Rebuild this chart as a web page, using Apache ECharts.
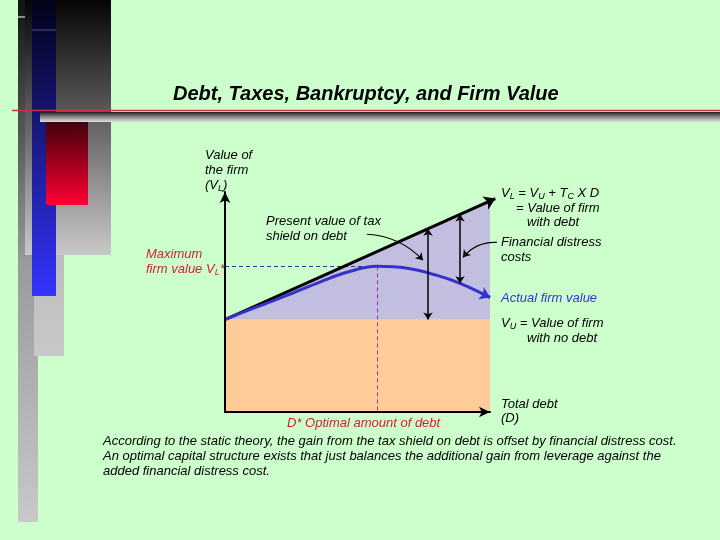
<!DOCTYPE html>
<html><head><meta charset="utf-8">
<script src="https://cdn.jsdelivr.net/npm/echarts@6/dist/echarts.min.js"></script>
<style>html,body{margin:0;padding:0;background:#ccffcc}#c{width:720px;height:540px}</style>
</head><body><div id="c"></div>
<script>
// ---- data (units: debt 0..100, firm value 0..100) ----
const debt = [0, 10.6, 23.4, 35.8, 46, 57.4, 68.7, 80, 88.7, 100];
const actualFirmValue = [42.1, 47.1, 53, 59, 63.5, 66.2, 65.3, 62.1, 58.5, 52.1];
const unleveredValue = 42;                 // V_U
const leveredStart = [0, 42];              // V_L = V_U + Tc x D
const leveredEnd = [102, 97];
const areaEnd = 100;
const optimalDebt = 57.4;                  // D*
const maxFirmValue = 66.2;                 // V_L*
const taxShieldArrow = [[76.6, 83.3], [76.6, 42]];
const distressArrow = [[88.7, 89.8], [88.7, 58.5]];
const taxShieldPointer = [[53.6, 80.8], [74.7, 69]];
const distressPointer = [[102.6, 77.1], [89.8, 70.3]];

const vlAt = d => leveredStart[1] + (leveredEnd[1] - leveredStart[1]) * (d - leveredStart[0]) / (leveredEnd[0] - leveredStart[0]);
const actualData = debt.map((d, i) => [d, actualFirmValue[i]]);
const n = debt.length;
const tipFrom = [debt[n - 2] + (debt[n - 1] - debt[n - 2]) * 0.7, actualFirmValue[n - 2] + (actualFirmValue[n - 1] - actualFirmValue[n - 2]) * 0.7];

const FONT = '"Liberation Sans", Arial, sans-serif';
const RED = '#cc1f3c', BLUE = '#3333cc';
const subRich = { sub: { font: 'italic 9px ' + FONT, padding: [6, 0, 0, 0] } };
function txt(x, y, text, fill, extra) {
  return Object.assign({ type: 'text', x: x, y: y, z: 50,
    style: { text: text, fill: fill || '#000', font: 'italic 13px ' + FONT, verticalAlign: 'middle', rich: subRich } }, extra || {});
}
const LG = echarts.graphic.LinearGradient;
function rect(x, y, w, h, stops, z) {
  return { type: 'rect', z: z, shape: { x: x, y: y, width: w, height: h }, style: { fill: new LG(0, 0, 0, 1, stops) } };
}
const axisCommon = { type: 'value', min: 0, max: 100, z: 10, splitLine: { show: false }, axisTick: { show: false }, axisLabel: { show: false },
  axisLine: { show: true, symbol: ['none', 'arrow'], symbolSize: [8, 11], lineStyle: { color: '#000', width: 2 } } };

const chart = echarts.init(document.getElementById('c'), null, { renderer: 'canvas' });
chart.setOption({
  backgroundColor: '#ccffcc',
  animation: false,
  grid: { left: 225, top: 192, width: 265, height: 220 },
  xAxis: Object.assign({}, axisCommon),
  yAxis: Object.assign({}, axisCommon),
  series: [
    { type: 'line', z: 1, symbol: 'none', data: [[0, unleveredValue], [areaEnd, unleveredValue]],
      lineStyle: { width: 0 }, areaStyle: { color: '#ffcc99', opacity: 1, origin: 'start' } },
    { type: 'line', z: 1, symbol: 'none', data: [leveredStart, [areaEnd, vlAt(areaEnd)]],
      lineStyle: { width: 0 }, areaStyle: { color: '#c2bedf', opacity: 1, origin: unleveredValue } },
    { type: 'lines', coordinateSystem: 'cartesian2d', z: 3, clip: false, symbol: ['none', 'none'],
      lineStyle: { color: '#333399', width: 1, type: [4, 3], opacity: 1 },
      data: [{ coords: [[0, maxFirmValue], [optimalDebt, maxFirmValue]] }] },
    { type: 'lines', coordinateSystem: 'cartesian2d', z: 3, clip: false, symbol: ['none', 'none'],
      lineStyle: { color: '#993399', width: 1, type: [4, 3], opacity: 1 },
      data: [{ coords: [[optimalDebt, maxFirmValue], [optimalDebt, 0]] }] },
    { type: 'lines', coordinateSystem: 'cartesian2d', z: 5, clip: false, symbol: ['none', 'arrow'], symbolSize: 11,
      lineStyle: { color: '#000', width: 3, opacity: 1 },
      data: [{ coords: [leveredStart, leveredEnd] }] },
    { type: 'line', z: 6, symbol: 'none', smooth: 0.4, clip: false, data: actualData,
      lineStyle: { color: BLUE, width: 3 } },
    { type: 'lines', coordinateSystem: 'cartesian2d', z: 6, clip: false, symbol: ['none', 'arrow'], symbolSize: 10,
      lineStyle: { color: BLUE, width: 3, opacity: 1 },
      data: [{ coords: [tipFrom, actualData[n - 1]] }] },
    { type: 'lines', coordinateSystem: 'cartesian2d', z: 7, clip: false, symbol: ['arrow', 'arrow'], symbolSize: 7,
      lineStyle: { color: '#000', width: 1.5, opacity: 1 },
      data: [{ coords: taxShieldArrow }, { coords: distressArrow }] },
    { type: 'lines', coordinateSystem: 'cartesian2d', z: 7, clip: false, symbol: ['none', 'arrow'], symbolSize: 7,
      lineStyle: { color: '#000', width: 1.2, opacity: 1, curveness: 0.2 },
      data: [{ coords: taxShieldPointer }] },
    { type: 'lines', coordinateSystem: 'cartesian2d', z: 7, clip: false, symbol: ['none', 'arrow'], symbolSize: 7,
      lineStyle: { color: '#000', width: 1.2, opacity: 1, curveness: -0.25 },
      data: [{ coords: distressPointer }] }
  ],
  graphic: [
    rect(18, 0, 20, 522, [{ offset: 0, color: '#111111' }, { offset: 0.5, color: '#9a9a9a' }, { offset: 1, color: '#c8c8c8' }], 1),
    rect(25, 0, 86, 255, [{ offset: 0, color: '#050505' }, { offset: 1, color: '#c8c8c8' }], 2),
    rect(34, 255, 30, 101, [{ offset: 0, color: '#bdbdbd' }, { offset: 1, color: '#c8c8c8' }], 2),
    rect(32, 0, 24, 296, [{ offset: 0, color: '#02021a' }, { offset: 1, color: '#3434ff' }], 3),
    { type: 'line', z: 3, shape: { x1: 32, y1: 30, x2: 56, y2: 30 }, style: { stroke: '#555577', lineWidth: 1 } },
    rect(46, 118, 42, 87, [{ offset: 0, color: '#3a0008' }, { offset: 1, color: '#ff0033' }], 4),
    { type: 'line', z: 5, shape: { x1: 12, y1: 110.5, x2: 720, y2: 110.5 }, style: { stroke: '#cc3344', lineWidth: 1.5 } },
    rect(40, 112, 680, 10, [{ offset: 0, color: '#1e1e1e' }, { offset: 0.5, color: '#8a8a8a' }, { offset: 1, color: '#e0e0e0' }], 5),
    { type: 'line', z: 5, shape: { x1: 18, y1: 17, x2: 25, y2: 17 }, style: { stroke: '#ffffff', lineWidth: 1 } },

    { type: 'text', x: 173, y: 94, z: 50, style: { text: 'Debt, Taxes, Bankruptcy, and Firm Value', fill: '#000',
      font: 'italic bold 20px ' + FONT, verticalAlign: 'middle' } },
    txt(205, 155, 'Value of'),
    txt(205, 170, 'the firm'),
    txt(205, 185, '(V{sub|L})'),
    txt(266, 221, 'Present value of tax'),
    txt(266, 236, 'shield on debt'),
    txt(146, 254, 'Maximum', RED),
    txt(146, 269, 'firm value V{sub|L}*', RED),
    txt(501, 193, 'V{sub|L} = V{sub|U} + T{sub|C} X D'),
    txt(516, 208, '= Value of firm'),
    txt(527, 222, 'with debt'),
    txt(501, 242, 'Financial distress'),
    txt(501, 257, 'costs'),
    txt(501, 298, 'Actual firm value', BLUE),
    txt(501, 323, 'V{sub|U} = Value of firm'),
    txt(527, 338, 'with no debt'),
    txt(501, 404, 'Total debt'),
    txt(501, 418, '(D)'),
    txt(287, 423, 'D* Optimal amount of debt', RED),
    txt(103, 441, 'According to the static theory, the gain from the tax shield on debt is offset by financial distress cost.'),
    txt(103, 456, 'An optimal capital structure exists that just balances the additional gain from leverage against the'),
    txt(103, 471, 'added financial distress cost.')
  ]
});
</script></body></html>
